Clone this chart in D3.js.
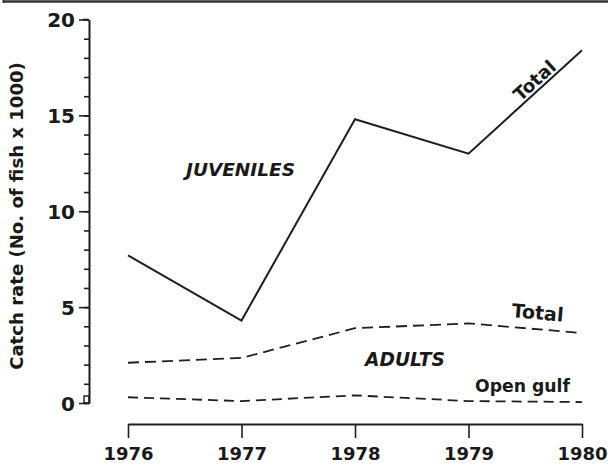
<!DOCTYPE html>
<html>
<head>
<meta charset="utf-8">
<script src="https://cdn.jsdelivr.net/npm/d3@7"></script>
<style>
  html, body { margin: 0; padding: 0; background: #fff; }
  svg { display: block; }
  text { font-family: "DejaVu Sans", "Liberation Sans", Arial, sans-serif; font-weight: bold; fill: #1a1a1a; }
</style>
</head>
<body>
<div id="chart"></div>
<script>
// Catch rate by year, fish x 1000
const years = [1976, 1977, 1978, 1979, 1980];
const juvenilesTotal = [7.7, 4.3, 14.8, 13.0, 18.4];
const adultsTotal = [2.1, 2.35, 3.9, 4.15, 3.65];
const adultsOpenGulf = [0.3, 0.1, 0.4, 0.1, 0.05];
const yMajorTicks = [0, 5, 10, 15, 20];
const yMinorTicks = d3.range(0, 21, 1);
const yTitle = "Catch rate (No. of fish x 1000)";

const W = 608, H = 468;
const svg = d3.select("#chart").append("svg").attr("width", W).attr("height", H);

const x = d3.scaleLinear().domain([1976, 1980]).range([128, 582]);
const y = d3.scaleLinear().domain([0, 20]).range([403, 19.5]);
const ink = "#1f1f1f";

// scale a text element's font so that it spans the given width
function fitWidth(sel, width) {
  const node = sel.node();
  const size = parseFloat(sel.style("font-size"));
  const len = node.getComputedTextLength();
  sel.style("font-size", (size * width / len).toFixed(2) + "px");
  return sel;
}

// frame rule along the top edge
svg.append("line").attr("x1", 3).attr("x2", W).attr("y1", 1.5).attr("y2", 1.5)
  .attr("stroke", "#333").attr("stroke-width", 2.5);
svg.append("line").attr("x1", 3.5).attr("x2", 3.5).attr("y1", 0).attr("y2", 3)
  .attr("stroke", "#333").attr("stroke-width", 2);

// y axis: minor ticks every unit, labelled ticks every 5
const yAxisX = 89;
const gy = svg.append("g").attr("transform", `translate(${yAxisX},0)`);
gy.call(d3.axisLeft(y).tickValues(yMinorTicks).tickSize(5).tickFormat("").tickSizeOuter(0));
const gyMajor = svg.append("g").attr("transform", `translate(${yAxisX},0)`);
gyMajor.call(d3.axisLeft(y).tickValues(yMajorTicks).tickSize(10).tickPadding(4).tickSizeOuter(0));
[gy, gyMajor].forEach(g => {
  g.selectAll("path").attr("stroke", ink).attr("stroke-width", 1.6);
  g.selectAll("line").attr("stroke", ink).attr("stroke-width", 1.6);
});
gyMajor.selectAll("text").style("font-size", "20px").attr("fill", ink)
  .style("font-family", "'DejaVu Sans', sans-serif").attr("dy", "0.36em");
// small closing caps at each end of the y axis
svg.append("path")
  .attr("d", `M${yAxisX - 6},${y(20)}H${yAxisX}M${yAxisX - 6},${y(0)}H${yAxisX}V${y(0) - 7}H${yAxisX - 5}V${y(0)}`)
  .attr("fill", "none").attr("stroke", ink).attr("stroke-width", 1.4);

const title = svg.append("text")
  .attr("transform", `translate(23,${216}) rotate(-90)`)
  .attr("text-anchor", "middle")
  .style("font-size", "15px")
  .text(yTitle);
fitWidth(title, 308);

// x axis
const gx = svg.append("g").attr("transform", "translate(0,424)");
gx.call(d3.axisBottom(x).tickValues(years).tickFormat(d3.format("d")).tickSize(14).tickPadding(9).tickSizeOuter(0));
gx.selectAll("path").attr("stroke", ink).attr("stroke-width", 1.8);
gx.selectAll("line").attr("stroke", ink).attr("stroke-width", 1.6);
gx.selectAll("text").style("font-size", "18px").attr("fill", ink)
  .style("font-family", "'DejaVu Sans', sans-serif").attr("dy", "0.71em");

const line = d3.line().x((d, i) => x(years[i])).y(d => y(d));

svg.append("path").datum(juvenilesTotal).attr("d", line)
  .attr("fill", "none").attr("stroke", ink).attr("stroke-width", 2).attr("stroke-linejoin", "miter");

svg.append("path").datum(adultsTotal).attr("d", line)
  .attr("fill", "none").attr("stroke", ink).attr("stroke-width", 1.8).attr("stroke-dasharray", "11,6");

svg.append("path").datum(adultsOpenGulf).attr("d", line)
  .attr("fill", "none").attr("stroke", ink).attr("stroke-width", 1.8).attr("stroke-dasharray", "10,6");

// series labels
const slope = Math.atan2(y(juvenilesTotal[4]) - y(juvenilesTotal[3]), x(1980) - x(1979)) * 180 / Math.PI;
fitWidth(svg.append("text")
  .attr("transform", `translate(${x(1979.62)},${y(16.1) - 9}) rotate(${slope})`)
  .attr("text-anchor", "middle")
  .style("font-size", "15px")
  .text("Total"), 50);

fitWidth(svg.append("text").attr("x", 186).attr("y", 176)
  .style("font-size", "15px").style("font-style", "italic")
  .text("JUVENILES"), 109);

fitWidth(svg.append("text")
  .attr("transform", `translate(${537},${y(4.0) - 7}) rotate(5)`)
  .attr("text-anchor", "middle")
  .style("font-size", "15px")
  .text("Total"), 52);

fitWidth(svg.append("text").attr("x", 365).attr("y", 366)
  .style("font-size", "15px").style("font-style", "italic")
  .text("ADULTS"), 80);

fitWidth(svg.append("text").attr("x", 475).attr("y", 392)
  .style("font-size", "15px")
  .text("Open gulf"), 95);
</script>
</body>
</html>
